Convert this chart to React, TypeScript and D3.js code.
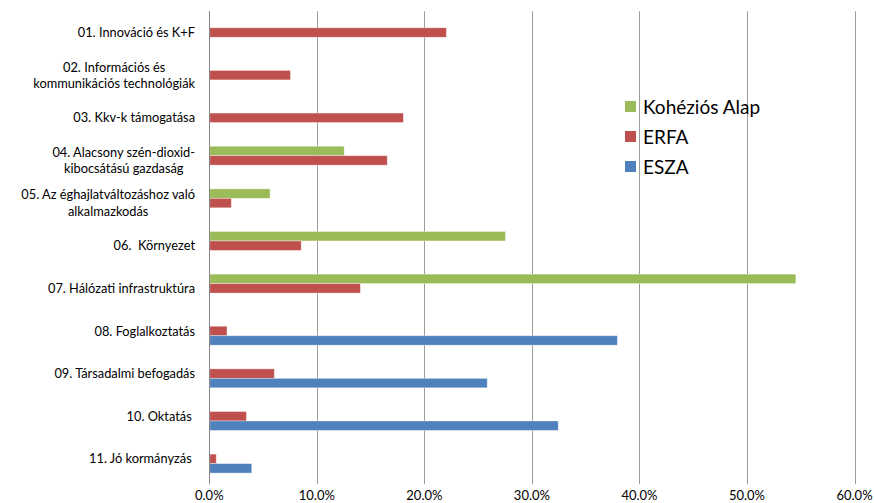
import React from "react";
import * as d3 from "d3";

const categories: string[][] = [
  ["01. Innováció és K+F"],
  ["02. Információs és", "kommunikációs technológiák"],
  ["03. Kkv-k támogatása"],
  ["04. Alacsony szén-dioxid-", "kibocsátású gazdaság"],
  ["05. Az éghajlatváltozáshoz való", "alkalmazkodás"],
  ["06.  Környezet"],
  ["07. Hálózati infrastruktúra"],
  ["08. Foglalkoztatás"],
  ["09. Társadalmi befogadás"],
  ["10. Oktatás "],
  ["11. Jó kormányzás "],
];

const seriesNames = ["Kohéziós Alap", "ERFA", "ESZA"];
const seriesColors = ["#9BBB59", "#C0504D", "#4F81BD"];

const kohezios: (number | null)[] = [null, null, null, 12.5, 5.6, 27.5, 54.5, null, null, null, null];
const erfa: (number | null)[] = [22.0, 7.5, 18.0, 16.5, 2.0, 8.5, 14.0, 1.6, 6.0, 3.4, 0.6];
const esza: (number | null)[] = [null, null, null, null, null, null, null, 37.9, 25.8, 32.4, 3.9];

const xTicks = [0, 10, 20, 30, 40, 50, 60];

const W = 874;
const H = 503;
const plot = { left: 209.3, right: 854.5, top: 11.2, bottom: 480.2 };
const FONT = "Lato, 'Open Sans', sans-serif";

export default function App() {
  const x = d3.scaleLinear().domain([0, 60]).range([plot.left, plot.right]);
  const idx = categories.map((_, i) => String(i));
  const y = d3.scaleBand<string>().domain(idx).range([plot.top, plot.bottom]).padding(0);
  const step = y.step();
  const barW = step / (3 + 1.5);
  const inner = d3
    .scaleBand<string>()
    .domain(seriesNames)
    .range([-1.5 * barW, 1.5 * barW])
    .padding(0);
  const data = [kohezios, erfa, esza];
  const lineH = 16.5;

  return (
    <svg
      width={W}
      height={H}
      style={{ position: "absolute", left: 0, top: 0, background: "#fff" }}
      fontFamily={FONT}
    >
      {/* gridlines */}
      {xTicks.map((t) => (
        <line
          key={"g" + t}
          x1={Math.round(x(t)) + 0.5}
          x2={Math.round(x(t)) + 0.5}
          y1={plot.top}
          y2={plot.bottom + 4}
          stroke={t === 0 ? "#868686" : "#9d9d9d"}
          strokeWidth={1}
        />
      ))}
      {/* bars */}
      {data.map((vals, s) =>
        vals.map((v, i) => {
          if (v == null) return null;
          const cy = (y(String(i)) as number) + step / 2;
          const yy = cy + (inner(seriesNames[s]) as number);
          return (
            <rect
              key={s + "-" + i}
              x={x(0) + 0.5}
              y={yy}
              width={x(v) - x(0)}
              height={barW}
              fill={seriesColors[s]}
              stroke="rgba(255,255,255,0.45)"
              strokeWidth={0.8}
            />
          );
        })
      )}
      {/* axis line on top of bars */}
      <line
        x1={Math.round(x(0)) + 0.5}
        x2={Math.round(x(0)) + 0.5}
        y1={plot.top}
        y2={plot.bottom}
        stroke="#868686"
      />
      {/* x tick labels */}
      {xTicks.map((t) => (
        <text
          key={"t" + t}
          x={x(t)}
          y={500}
          textAnchor="middle"
          fontSize={13}
          fill="#000"
        >
          {d3.format(".1f")(t) + "%"}
        </text>
      ))}
      {/* category labels */}
      {categories.map((lines, i) => {
        const cy = (y(String(i)) as number) + step / 2;
        const n = lines.length;
        const startY = cy - ((n - 1) * lineH) / 2 + 4.6;
        return (
          <g key={"c" + i}>
            {lines.map((ln, j) => (
              <text
                key={j}
                x={n === 1 ? 195 : 0}
                y={startY + j * lineH}
                textAnchor={n === 1 ? "end" : "middle"}
                fontSize={12.8}
                fill="#000"
                style={{ whiteSpace: "pre" }}
                data-line={j}
                data-cat={i}
              >
                {ln}
              </text>
            ))}
          </g>
        );
      })}
      {/* legend */}
      {seriesNames.map((nm, s) => (
        <g key={"l" + s} transform={`translate(625, ${101 + s * 30})`}>
          <rect x={0} y={0} width={11} height={11} fill={seriesColors[s]} />
          <text x={18} y={13} fontSize={19} fill="#000">
            {nm}
          </text>
        </g>
      ))}
      <MultiLineFix />
    </svg>
  );
}

// Center wrapped category labels within a right-aligned block (as the source does)
function MultiLineFix() {
  const ref = React.useRef<SVGGElement>(null);
  React.useLayoutEffect(() => {
    const svg = ref.current?.ownerSVGElement;
    if (!svg) return;
    const groups = d3.select(svg).selectAll<SVGTextElement, unknown>("text[data-cat]").nodes();
    const byCat = d3.group(groups, (n) => n.getAttribute("data-cat"));
    byCat.forEach((nodes) => {
      if (nodes.length < 2) return;
      const widths = nodes.map((n) => n.getComputedTextLength());
      const maxW = Math.max(...widths);
      const center = 195 - maxW / 2;
      nodes.forEach((n) => n.setAttribute("x", String(center)));
    });
  }, []);
  return <g ref={ref} />;
}
